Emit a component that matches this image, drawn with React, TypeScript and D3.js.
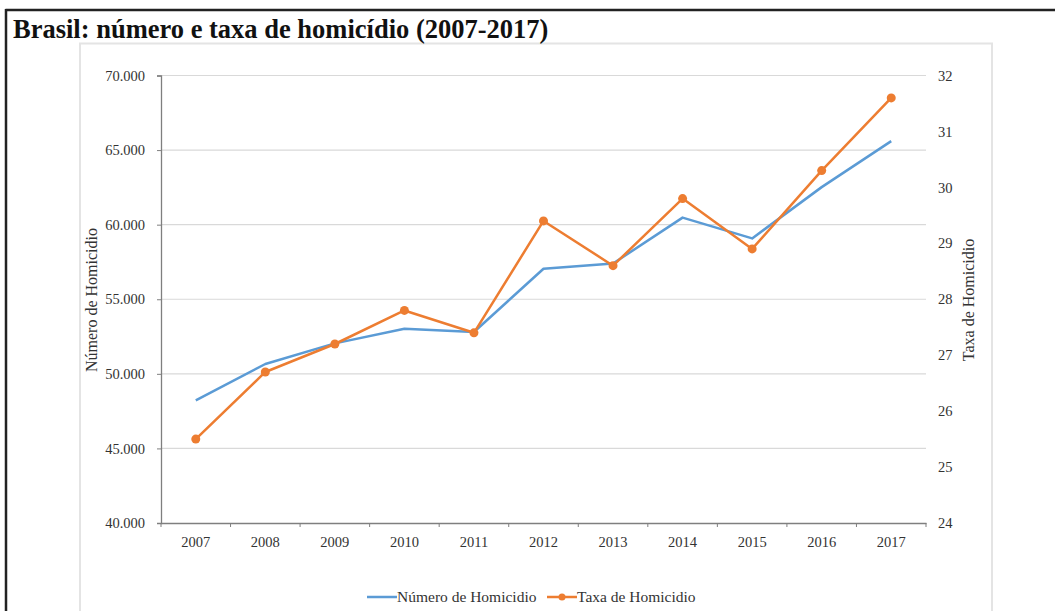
import { useEffect, useRef } from 'react';
import * as d3 from 'd3';

// Brasil: número e taxa de homicídio (2007-2017)
const years = ['2007', '2008', '2009', '2010', '2011', '2012', '2013', '2014', '2015', '2016', '2017'];
const numeroHomicidio = [48219, 50659, 52043, 53016, 52807, 57045, 57396, 60474, 59080, 62517, 65602];
const taxaHomicidio = [25.5, 26.7, 27.2, 27.8, 27.4, 29.4, 28.6, 29.8, 28.9, 30.3, 31.6];
const leftTicks = [40000, 45000, 50000, 55000, 60000, 65000, 70000];
const rightTicks = [24, 25, 26, 27, 28, 29, 30, 31, 32];

const BLUE = '#5b9bd5';
const ORANGE = '#ed7d31';
const FONT = '"Liberation Serif", "Times New Roman", serif';

export default function App() {
    const ref = useRef<SVGSVGElement>(null);

    useEffect(() => {
        const svg = d3.select(ref.current);
        svg.selectAll('*').remove();

        const left = 161, right = 926, top = 75.5, bottom = 523;

        // outer frame (top + left black lines only)
        svg.append('line').attr('x1', 5.5).attr('x2', 1055).attr('y1', 10).attr('y2', 10)
            .attr('stroke', '#222').attr('stroke-width', 2.5);
        svg.append('line').attr('x1', 6).attr('x2', 6).attr('y1', 9).attr('y2', 611)
            .attr('stroke', '#222').attr('stroke-width', 2.5);

        // chart area frame
        svg.append('rect').attr('x', 80).attr('y', 43.5).attr('width', 912).attr('height', 600)
            .attr('fill', 'none').attr('stroke', '#e4e4e4').attr('stroke-width', 2);

        svg.append('text').attr('x', 13).attr('y', 38)
            .attr('font-family', FONT).attr('font-weight', 'bold').attr('font-size', 26.5)
            .attr('fill', '#111')
            .text('Brasil: número e taxa de homicídio (2007-2017)');

        const x = d3.scaleBand().domain(years).range([left, right]);
        const yL = d3.scaleLinear().domain([40000, 70000]).range([bottom, top]);
        const yR = d3.scaleLinear().domain([24, 32]).range([bottom, top]);
        const cx = (d: string) => (x(d) as number) + x.bandwidth() / 2;

        // gridlines
        svg.append('g').selectAll('line').data(leftTicks.slice(1)).join('line')
            .attr('x1', left).attr('x2', right)
            .attr('y1', d => yL(d)).attr('y2', d => yL(d))
            .attr('stroke', '#d9d9d9').attr('stroke-width', 1.2);

        const fmt = d3.format(',');
        const axisColor = '#7f7f7f';

        // left axis
        const gL = svg.append('g').attr('transform', `translate(${left},0)`)
            .call(d3.axisLeft(yL).tickValues(leftTicks).tickSize(4).tickPadding(12)
                .tickFormat(d => fmt(d as number).replace(',', '.')));
        gL.select('.domain').attr('stroke', axisColor).attr('stroke-width', 1.3);
        gL.selectAll('.tick line').attr('stroke', axisColor);
        gL.selectAll('.tick text').attr('font-family', FONT).attr('font-size', 14.5).attr('fill', '#333');

        // right axis (labels only)
        const gR = svg.append('g').attr('transform', `translate(${right},0)`)
            .call(d3.axisRight(yR).tickValues(rightTicks).tickSize(0).tickPadding(12));
        gR.select('.domain').remove();
        gR.selectAll('.tick text').attr('font-family', FONT).attr('font-size', 14.5).attr('fill', '#333');

        // bottom axis
        const gB = svg.append('g').attr('transform', `translate(0,${bottom})`)
            .call(d3.axisBottom(x).tickSize(0).tickPadding(14));
        gB.select('.domain').attr('stroke', axisColor).attr('stroke-width', 1.3);
        gB.selectAll('.tick text').attr('font-family', FONT).attr('font-size', 14.5).attr('fill', '#333');
        gB.selectAll('.bound').data([...years.map(d => x(d) as number), right]).join('line')
            .attr('x1', d => d).attr('x2', d => d).attr('y1', 0).attr('y2', 4)
            .attr('stroke', axisColor);

        // axis titles
        svg.append('text').attr('transform', `translate(97,300) rotate(-90)`)
            .attr('text-anchor', 'middle').attr('font-family', FONT).attr('font-size', 16)
            .attr('fill', '#333').text('Número de Homicidio');
        svg.append('text').attr('transform', `translate(974,300) rotate(-90)`)
            .attr('text-anchor', 'middle').attr('font-family', FONT).attr('font-size', 16)
            .attr('fill', '#333').text('Taxa de Homicidio');

        // series
        const lineL = d3.line<number>().x((_, i) => cx(years[i])).y(d => yL(d));
        const lineR = d3.line<number>().x((_, i) => cx(years[i])).y(d => yR(d));

        svg.append('path').datum(numeroHomicidio).attr('d', lineL)
            .attr('fill', 'none').attr('stroke', BLUE).attr('stroke-width', 2.5)
            .attr('stroke-linejoin', 'round');
        svg.append('path').datum(taxaHomicidio).attr('d', lineR)
            .attr('fill', 'none').attr('stroke', ORANGE).attr('stroke-width', 2.5)
            .attr('stroke-linejoin', 'round');
        svg.append('g').selectAll('circle').data(taxaHomicidio).join('circle')
            .attr('cx', (_, i) => cx(years[i])).attr('cy', d => yR(d)).attr('r', 4.5)
            .attr('fill', ORANGE);

        // legend
        const lg = svg.append('g').attr('transform', 'translate(0,597)');
        lg.append('line').attr('x1', 367).attr('x2', 397).attr('stroke', BLUE).attr('stroke-width', 2.5);
        lg.append('text').attr('x', 397).attr('y', 5).attr('font-family', FONT).attr('font-size', 15.5)
            .attr('fill', '#333').text('Número de Homicidio');
        lg.append('line').attr('x1', 547).attr('x2', 577).attr('stroke', ORANGE).attr('stroke-width', 2.5);
        lg.append('circle').attr('cx', 562).attr('cy', 0).attr('r', 3.5).attr('fill', ORANGE);
        lg.append('text').attr('x', 577).attr('y', 5).attr('font-family', FONT).attr('font-size', 15.5)
            .attr('fill', '#333').text('Taxa de Homicidio');
    }, []);

    return (
        <svg ref={ref} width={1055} height={611}
            style={{ position: 'absolute', left: 0, top: 0, background: '#fff' }} />
    );
}
